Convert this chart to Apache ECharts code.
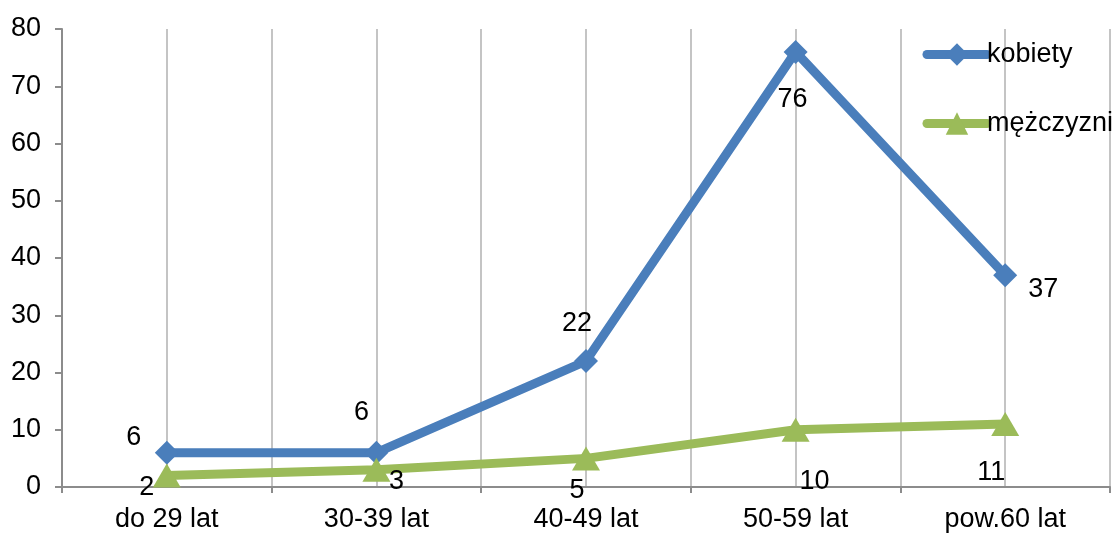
<!DOCTYPE html>
<html><head><meta charset="utf-8">
<script src="https://cdn.jsdelivr.net/npm/echarts@6/dist/echarts.min.js"></script>
<style>html,body{margin:0;padding:0;background:#fff}#c{width:1118px;height:533px}</style>
</head><body><div id="c"></div>
<script>
const categories = ['do 29 lat', '30-39 lat', '40-49 lat', '50-59 lat', 'pow.60 lat'];
const kobiety = [6, 6, 22, 76, 37];
const mezczyzni = [2, 3, 5, 10, 11];
const yTicks = {min: 0, max: 80, interval: 10};

const kobOffsets = [[-33,-15],[-15,-40],[-9,-38],[-3,48],[38,14]];
const mezOffsets = [[-20,12],[20,12],[-9,32],[19,52],[-14,49]];

const font = 'Liberation Sans, Arial, sans-serif';
const fs = 27;
function withLabels(vals, offs){
  return vals.map((v,i)=>({value:v, label:{show:true, position:'inside', offset:offs[i]}}));
}
const chart = echarts.init(document.getElementById('c'), null, {renderer:'canvas'});
chart.setOption({
  animation:false,
  grid:{left:62, right:8, top:29, bottom:46},
  legend:{
    orient:'vertical', right:0, top:36, itemWidth:60, itemHeight:28, itemGap:42,
    textStyle:{fontFamily:font, fontSize:fs, color:'#000', padding:[0,0,0,-5]},
    lineStyle:{width:9, cap:'round'},
    data:['kobiety','mężczyzni']
  },
  xAxis:[{
    type:'category', data:categories, boundaryGap:true,
    axisLine:{lineStyle:{color:'#8c8c8c', width:2}},
    axisTick:{show:true, length:6, lineStyle:{color:'#8c8c8c', width:2}},
    axisLabel:{fontFamily:font, fontSize:fs, color:'#000', margin:19},
    splitLine:{show:false}
  },{
    type:'category', data:['','','','','','','','','',''], boundaryGap:true, position:'bottom',
    axisLine:{show:false}, axisTick:{show:false}, axisLabel:{show:false},
    splitLine:{show:true, interval:0, lineStyle:{color:'#b0b0b0', width:1.5}}
  }],
  yAxis:{
    type:'value', min:yTicks.min, max:yTicks.max, interval:yTicks.interval,
    axisLine:{show:true, lineStyle:{color:'#8c8c8c', width:2}},
    axisTick:{show:true, length:7, lineStyle:{color:'#8c8c8c', width:2}},
    axisLabel:{fontFamily:font, fontSize:fs, color:'#000', margin:21},
    splitLine:{show:false}
  },
  series:[{
    name:'kobiety', type:'line', data:withLabels(kobiety,kobOffsets),
    symbol:'diamond', symbolSize:24,
    lineStyle:{color:'#4a7ebb', width:9, join:'round'},
    itemStyle:{color:'#4a7ebb'},
    label:{fontFamily:font, fontSize:fs, color:'#000'}
  },{
    name:'mężczyzni', type:'line', data:withLabels(mezczyzni,mezOffsets),
    symbol:'triangle', symbolSize:[28,24],
    lineStyle:{color:'#9bbb59', width:9, join:'round'},
    itemStyle:{color:'#9bbb59'},
    label:{fontFamily:font, fontSize:fs, color:'#000'}
  }]
});
</script></body></html>
